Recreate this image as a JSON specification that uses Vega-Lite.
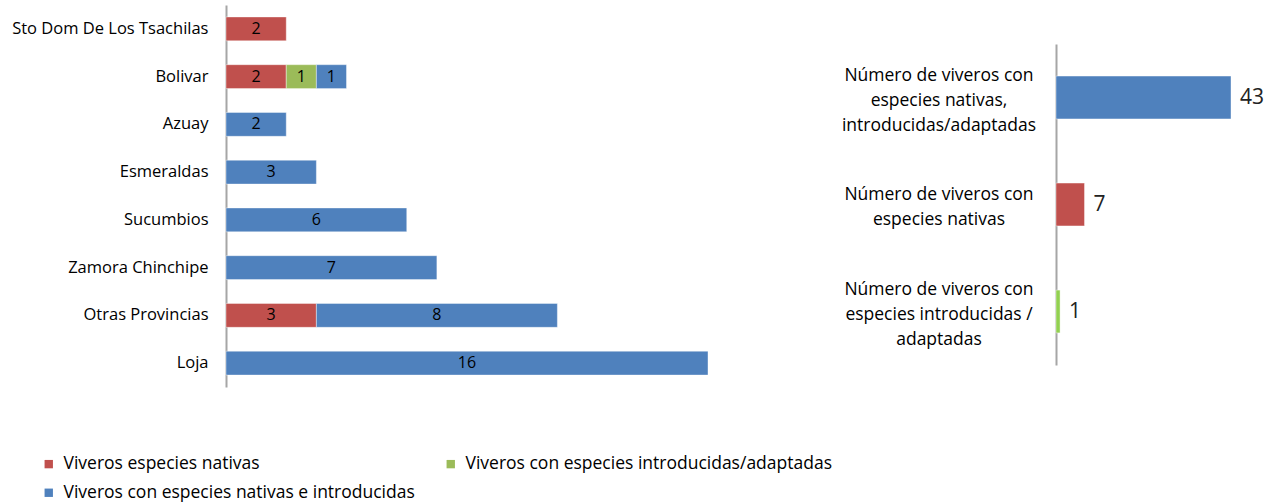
{
  "$schema": "https://vega.github.io/schema/vega-lite/v6.json",
  "padding": {"left": 11, "top": 5, "right": 5, "bottom": 5},
  "background": "white",
  "config": {
    "font": "Open Sans",
    "view": {"stroke": null},
    "axis": {"labelFont": "Open Sans", "labelColor": "#000000", "domainColor": "#A6A6A6", "domainWidth": 2, "ticks": false, "grid": false}
  },
  "datasets": {
    "prov": [
      {"prov": "Sto Dom De Los Tsachilas", "serie": "Viveros especies nativas", "o": 1, "v": 2},
      {"prov": "Bolivar", "serie": "Viveros especies nativas", "o": 1, "v": 2},
      {"prov": "Bolivar", "serie": "Viveros con especies introducidas/adaptadas", "o": 2, "v": 1},
      {"prov": "Bolivar", "serie": "Viveros con especies nativas e introducidas", "o": 3, "v": 1},
      {"prov": "Azuay", "serie": "Viveros con especies nativas e introducidas", "o": 3, "v": 2},
      {"prov": "Esmeraldas", "serie": "Viveros con especies nativas e introducidas", "o": 3, "v": 3},
      {"prov": "Sucumbios", "serie": "Viveros con especies nativas e introducidas", "o": 3, "v": 6},
      {"prov": "Zamora Chinchipe", "serie": "Viveros con especies nativas e introducidas", "o": 3, "v": 7},
      {"prov": "Otras Provincias", "serie": "Viveros especies nativas", "o": 1, "v": 3},
      {"prov": "Otras Provincias", "serie": "Viveros con especies nativas e introducidas", "o": 3, "v": 8},
      {"prov": "Loja", "serie": "Viveros con especies nativas e introducidas", "o": 3, "v": 16}
    ],
    "tot": [
      {"cat": "Número de viveros con|especies nativas,|introducidas/adaptadas", "v": 43, "c": "#4F81BD"},
      {"cat": "Número de viveros con|especies nativas", "v": 7, "c": "#C0504D"},
      {"cat": "Número de viveros con|especies introducidas /|adaptadas", "v": 1, "c": "#92D050"}
    ]
  },
  "hconcat": [
    {
      "width": 482,
      "height": 382,
      "data": {"name": "prov"},
      "transform": [
        {"stack": "v", "groupby": ["prov"], "sort": [{"field": "o", "order": "ascending"}], "as": ["x0", "x1"]},
        {"calculate": "(datum.x0 + datum.x1) / 2", "as": "xm"}
      ],
      "encoding": {
        "y": {
          "field": "prov", "type": "nominal", "title": null,
          "sort": ["Sto Dom De Los Tsachilas", "Bolivar", "Azuay", "Esmeraldas", "Sucumbios", "Zamora Chinchipe", "Otras Provincias", "Loja"],
          "scale": {"paddingInner": 0.5, "paddingOuter": 0.25},
          "axis": {"labelFontSize": 16.5, "labelPadding": 18, "labelLimit": 400}
        }
      },
      "layer": [
        {
          "mark": {"type": "bar", "stroke": "#ffffff", "strokeOpacity": 0.4, "strokeWidth": 1},
          "encoding": {
            "x": {"field": "x0", "type": "quantitative", "scale": {"domain": [0, 16], "nice": false}, "axis": null},
            "x2": {"field": "x1"},
            "color": {
              "field": "serie", "type": "nominal",
              "scale": {
                "domain": ["Viveros especies nativas", "Viveros con especies introducidas/adaptadas", "Viveros con especies nativas e introducidas"],
                "range": ["#C0504D", "#9BBB59", "#4F81BD"]
              },
              "legend": {
                "title": null, "orient": "none", "legendX": -186, "legendY": 450,
                "direction": "horizontal", "columns": 2, "columnPadding": 27, "rowPadding": 10,
                "symbolType": "square", "symbolSize": 70, "symbolStrokeWidth": 0,
                "labelFontSize": 17.5, "labelFont": "Open Sans", "labelColor": "#000000", "labelLimit": 500, "labelOffset": 6
              }
            }
          }
        },
        {
          "mark": {"type": "text", "fontSize": 16, "color": "#000000", "align": "center", "baseline": "middle"},
          "encoding": {
            "x": {"field": "xm", "type": "quantitative"},
            "text": {"field": "v", "type": "quantitative"}
          }
        }
      ]
    },
    {
      "width": 175,
      "height": 382,
      "data": {"name": "tot"},
      "encoding": {
        "y": {
          "field": "cat", "type": "nominal", "title": null, "sort": null,
          "scale": {"range": [39, 360], "paddingInner": 0.6, "paddingOuter": 0.3},
          "axis": {"labels": false}
        }
      },
      "layer": [
        {
          "mark": {"type": "bar", "stroke": "#ffffff", "strokeOpacity": 0.4, "strokeWidth": 1},
          "encoding": {
            "x": {"field": "v", "type": "quantitative", "scale": {"domain": [0, 43], "nice": false}, "axis": null},
            "color": {"field": "c", "type": "nominal", "scale": null}
          }
        },
        {
          "mark": {"type": "text", "fontSize": 21, "color": "#222222", "align": "left", "baseline": "middle", "dx": 9},
          "encoding": {
            "x": {"field": "v", "type": "quantitative"},
            "text": {"field": "v", "type": "quantitative"}
          }
        },
        {
          "transform": [{"filter": "length(split(datum.cat, '|')) == 3"}],
          "mark": {"type": "text", "fontSize": 17.5, "color": "#000000", "align": "center", "baseline": "middle", "lineBreak": "|", "lineHeight": 25, "dx": -117, "dy": -22},
          "encoding": {
            "x": {"datum": 0, "type": "quantitative"},
            "text": {"field": "cat", "type": "nominal"}
          }
        },
        {
          "transform": [{"filter": "length(split(datum.cat, '|')) == 2"}],
          "mark": {"type": "text", "fontSize": 17.5, "color": "#000000", "align": "center", "baseline": "middle", "lineBreak": "|", "lineHeight": 25, "dx": -117, "dy": -9.5},
          "encoding": {
            "x": {"datum": 0, "type": "quantitative"},
            "text": {"field": "cat", "type": "nominal"}
          }
        }
      ]
    }
  ],
  "spacing": 9,
  "resolve": {"scale": {"color": "independent"}, "legend": {"color": "independent"}}
}
